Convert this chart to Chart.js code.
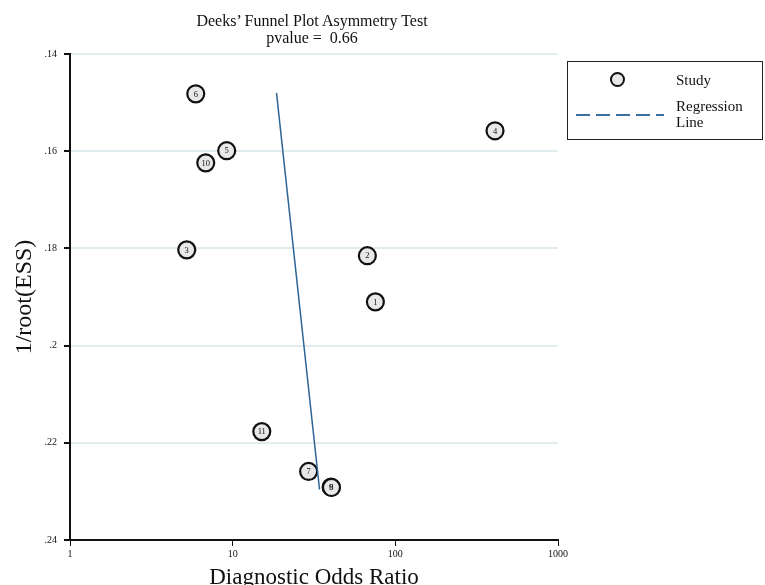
<!DOCTYPE html>
<html>
<head>
<meta charset="utf-8">
<script src="https://cdn.jsdelivr.net/npm/chart.js@4"></script>
<style>
  body { margin: 0; background: #fff; font-family: "Liberation Serif", "Times New Roman", serif; }
  #wrap { position: relative; width: 765px; height: 585px; overflow: hidden; }
  #title { position: absolute; left: 112px; width: 400px; top: 12px; text-align: center; font-size: 16px; line-height: 17px; color: #111; }
  #legend { position: absolute; left: 567px; top: 61px; width: 194px; height: 77px; border: 1px solid #222; }
  #legend .dot { position: absolute; left: 42px; top: 10px; width: 11px; height: 11px; border: 2px solid #111; border-radius: 50%; background: #e8e8e8; }
  #legend .dash { position: absolute; left: 8px; top: 52px; width: 88px; height: 2px;
    background: repeating-linear-gradient(to right, #3a6f9f 0 14px, transparent 14px 20px); }
  #legend .t { position: absolute; font-size: 15px; line-height: 16px; color: #111; }
</style>
</head>
<body>
<div id="wrap">
  <canvas id="c" width="765" height="585"></canvas>
  <div id="title">Deeks’ Funnel Plot Asymmetry Test<br>pvalue =&nbsp; 0.66</div>
  <div id="legend">
    <div class="dot"></div>
    <div class="t" style="left:108px;top:10px">Study</div>
    <div class="dash"></div>
    <div class="t" style="left:108px;top:36px">Regression<br>Line</div>
  </div>
</div>
<script>
// study points (9 before 8 so "8" ends up on top, as in the picture)
const studyLabels = ["1", "2", "3", "4", "5", "6", "7", "9", "8", "10", "11"];
const dorValues = [75.4, 67.3, 5.22, 410, 9.19, 5.93, 29.3, 40.3, 40.5, 6.83, 15.1];
const invRootEss = [0.1910, 0.1815, 0.1803, 0.1558, 0.1599, 0.1482, 0.2259, 0.2291, 0.2292, 0.1624, 0.2177];

// regression line ends
const regX = [18.6, 34.2];
const regY = [0.1480, 0.2296];

const xTicks = [1, 10, 100, 1000];

const q = (s) => document.querySelector(s);
const serif = "'Liberation Serif', serif";

const labelPlugin = {
  id: "studyLabels",
  afterDatasetsDraw(chart) {
    const ctx = chart.ctx;
    const meta = chart.getDatasetMeta(1);
    ctx.save();
    ctx.font = "8.5px " + serif;
    ctx.fillStyle = "#111";
    ctx.textAlign = "center";
    ctx.textBaseline = "middle";
    meta.data.forEach((p, i) => {
      ctx.fillText(studyLabels[i], p.x, p.y + 0.5);
    });
    ctx.restore();
  },
};

new Chart(q("#c"), {
  data: {
    datasets: [
      {
        type: "line",
        data: regX.map((x, i) => ({ x, y: regY[i] })),
        borderColor: "#2d6496",
        borderWidth: 1.5,
        pointRadius: 0,
        fill: false,
      },
      {
        type: "scatter",
        data: dorValues.map((x, i) => ({ x, y: invRootEss[i] })),
        pointRadius: 8.5,
        pointBackgroundColor: "#e8e8e8",
        pointBorderColor: "#111",
        pointBorderWidth: 2.2,
      },
    ],
  },
  options: {
    responsive: false,
    animation: false,
    layout: { padding: { left: 0, right: 207, top: 54, bottom: 0 } },
    plugins: {
      legend: { display: false },
      title: { display: false },
      tooltip: { enabled: false },
    },
    scales: {
      x: {
        type: "logarithmic",
        min: 1,
        max: 1000,
        afterBuildTicks: (s) => {
          s.ticks = xTicks.map((v) => ({ value: v }));
        },
        afterFit: (s) => {
          s.height = 45;
        },
        ticks: {
          callback: (v) => String(v),
          color: "#111",
          font: { family: serif, size: 10 },
          padding: 2,
          maxRotation: 0,
        },
        grid: { drawOnChartArea: false, tickColor: "#111", tickLength: 6 },
        border: { color: "#111", width: 2 },
        title: {
          display: true,
          text: "Diagnostic Odds Ratio",
          color: "#111",
          font: { family: serif, size: 23 },
          padding: { top: 0, bottom: -7 },
        },
      },
      y: {
        min: 0.14,
        max: 0.24,
        reverse: true,
        afterFit: (s) => {
          s.width = 70;
        },
        ticks: {
          stepSize: 0.02,
          callback: (v) => Number(v.toFixed(2)).toString().replace(/^0/, ""),
          color: "#111",
          font: { family: serif, size: 10 },
          padding: 7,
        },
        grid: { color: "#e1ecef", lineWidth: 2, tickColor: "#111", tickLength: 6 },
        border: { color: "#111", width: 2 },
        title: {
          display: true,
          text: "1/root(ESS)",
          color: "#111",
          font: { family: serif, size: 24 },
          padding: { top: 10, bottom: 0 },
        },
      },
    },
  },
  plugins: [labelPlugin],
});
</script>
</body>
</html>
